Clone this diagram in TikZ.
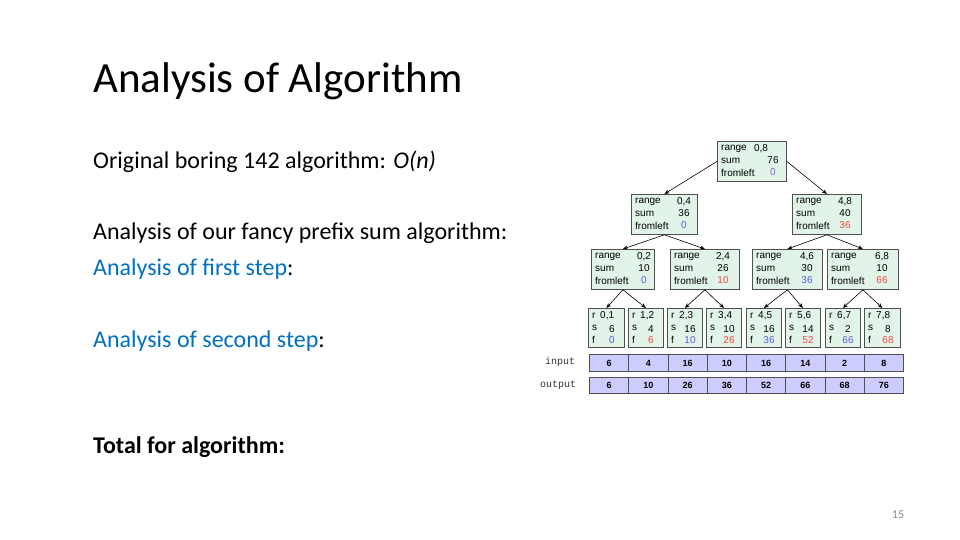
\documentclass[tikz,border=0pt]{standalone}
\usepackage{fontspec}
\setmainfont{Carlito}
\newfontfamily\boxfont{Liberation Sans}
\newfontfamily\monofont{Liberation Mono}
\usetikzlibrary{arrows.meta}
\definecolor{boxfill}{HTML}{E2F3E8}
\definecolor{boxline}{HTML}{505050}
\definecolor{cellfill}{HTML}{CCCCFF}
\definecolor{vblue}{HTML}{5A5AE6}
\definecolor{vred}{HTML}{F04848}
\definecolor{vpurple}{HTML}{8A60D8}
\definecolor{linkblue}{HTML}{0070C0}
\definecolor{pagegray}{HTML}{898989}
\tikzset{
  tbox/.style={draw=boxline, fill=boxfill, line width=0.8pt, inner sep=0pt},
  lab/.style={font=\boxfont\fontsize{10}{11}\selectfont, anchor=west, inner sep=0pt},
  val/.style={font=\boxfont\fontsize{10}{11}\selectfont, anchor=center, inner sep=0pt},
  cell/.style={draw=boxline, fill=cellfill, line width=0.8pt, inner sep=0pt, text height=6.5pt, text depth=0pt, font=\boxfont\bfseries\fontsize{9}{10}\selectfont},
  rowlab/.style={font=\monofont\fontsize{10}{11}\selectfont, text=black!80, inner sep=0pt},
  edge/.style={draw=black, line width=0.6pt, -{Stealth[length=5pt,width=4pt]}},
  body/.style={anchor=base west, inner sep=0pt, font=\fontsize{24}{28}\selectfont}
}
% big box: name, x1, y1, x2, value center x, range, sum, fromleft, colour
\newcommand{\bigbox}[9]{%
  \node[tbox, minimum width=#4-#2, minimum height=40, anchor=north west] (#1) at (#2,#3) {};
  \node[lab] (#1-rl) at (#2+4,#3+8) {range};
  \node[lab] (#1-sl) at (#2+4,#3+20) {sum};
  \node[lab] (#1-fl) at (#2+4,#3+32) {fromleft};
  \node[val] (#1-rv) at (#5,#3+7.5) {#6};
  \node[val] (#1-sv) at (#5,#3+19) {#7};
  \node[val] (#1-fv) at (#5,#3+31.5) {\textcolor{#9}{#8}};
}
% leaf: name, x1, x2, range, sum, fromleft, colour
\newcommand{\leafbox}[7]{%
  \node[tbox, minimum width=#3-#2, minimum height=39, anchor=north west] (#1) at (#2,308) {};
  \node[lab] (#1-rl) at (#2+4,316) {r};
  \node[lab] (#1-sl) at (#2+4,328) {s};
  \node[lab] (#1-fl) at (#2+4,340) {f};
  \node[lab] (#1-rv) at (#2+12,316) {#4};
  \node[val] (#1-sv) at (#3-12,329) {#5};
  \node[val] (#1-fv) at (#3-12,340) {\textcolor{#7}{#6}};
}
\begin{document}
\begin{tikzpicture}[x=1pt,y=-1pt]
\useasboundingbox (0,0) rectangle (960,540);
\fill[white] (0,0) rectangle (960,540);

% slide text
\node[anchor=base west, inner sep=0pt, font=\fontsize{43}{50}\selectfont] (title) at (93,93) {Analysis of Algorithm};
\node[body] (t1) at (93,168) {Original boring 142 algorithm: \textit{O(n)}};
\node[body] (t2) at (93,239) {Analysis of our fancy prefix sum algorithm:};
\node[body] (t3) at (93,275) {\textcolor{linkblue}{Analysis of first step}:};
\node[body] (t4) at (93,347) {\textcolor{linkblue}{Analysis of second step}:};
\node[body] (t5) at (93,453) {\textbf{Total for algorithm:}};
\node[anchor=base, inner sep=0pt, font=\fontsize{12}{14}\selectfont, text=pagegray] (pg) at (898,518) {15};

% tree
\bigbox{root}{717}{141}{786}{773}{}{76}{0}{vpurple}
\node[val] (root-range) at (761,148.5) {0,8};
\bigbox{la}{631}{194}{697}{684}{0,4}{36}{0}{vblue}
\bigbox{lb}{792}{194}{861}{845}{4,8}{40}{36}{vred}
\bigbox{ma}{591}{249}{654}{644}{0,2}{10}{0}{vblue}
\bigbox{mb}{670}{249}{739}{723}{2,4}{26}{10}{vred}
\bigbox{mc}{752}{249}{822}{807}{4,6}{30}{36}{vblue}
\bigbox{md}{827}{249}{898}{882}{6,8}{10}{66}{vred}

\leafbox{k1}{588}{624}{0,1}{6}{0}{vblue}
\leafbox{k2}{628}{663}{1,2}{4}{6}{vred}
\leafbox{k3}{667}{702}{2,3}{16}{10}{vblue}
\leafbox{k4}{706}{741}{3,4}{10}{26}{vred}
\leafbox{k5}{746}{781}{4,5}{16}{36}{vblue}
\leafbox{k6}{785}{820}{5,6}{14}{52}{vred}
\leafbox{k7}{825}{860}{6,7}{2}{66}{vblue}
\leafbox{k8}{864}{900}{7,8}{8}{68}{vred}

% edges
\draw[edge] (root.west) -- (la.north);
\draw[edge] (root.east) -- (lb.north);
\draw[edge] (la.south) -- (ma.north);
\draw[edge] (la.south) -- (mb.north);
\draw[edge] (lb.south) -- (mc.north);
\draw[edge] (lb.south) -- (md.north);
\draw[edge] (ma.south) -- (k1.north);
\draw[edge] (ma.south) -- (k2.north);
\draw[edge] (mb.south) -- (k3.north);
\draw[edge] (mb.south) -- (k4.north);
\draw[edge] (mc.south) -- (k5.north);
\draw[edge] (mc.south) -- (k6.north);
\draw[edge] (md.south) -- (k7.north);
\draw[edge] (md.south) -- (k8.north);

% input / output rows
\node[rowlab] (inlab) at (560,362) {input};
\node[rowlab] (outlab) at (558,385) {output};
\foreach \v [count=\i] in {6,4,16,10,16,14,2,8} {
  \node[cell, minimum width=39.25, minimum height=17, anchor=north west] (in\i) at ({589+(\i-1)*39.25},354) {\v};
}
\foreach \v [count=\i] in {6,10,26,36,52,66,68,76} {
  \node[cell, minimum width=39.25, minimum height=16, anchor=north west] (out\i) at ({589+(\i-1)*39.25},377) {\v};
}
\end{tikzpicture}
\end{document}
